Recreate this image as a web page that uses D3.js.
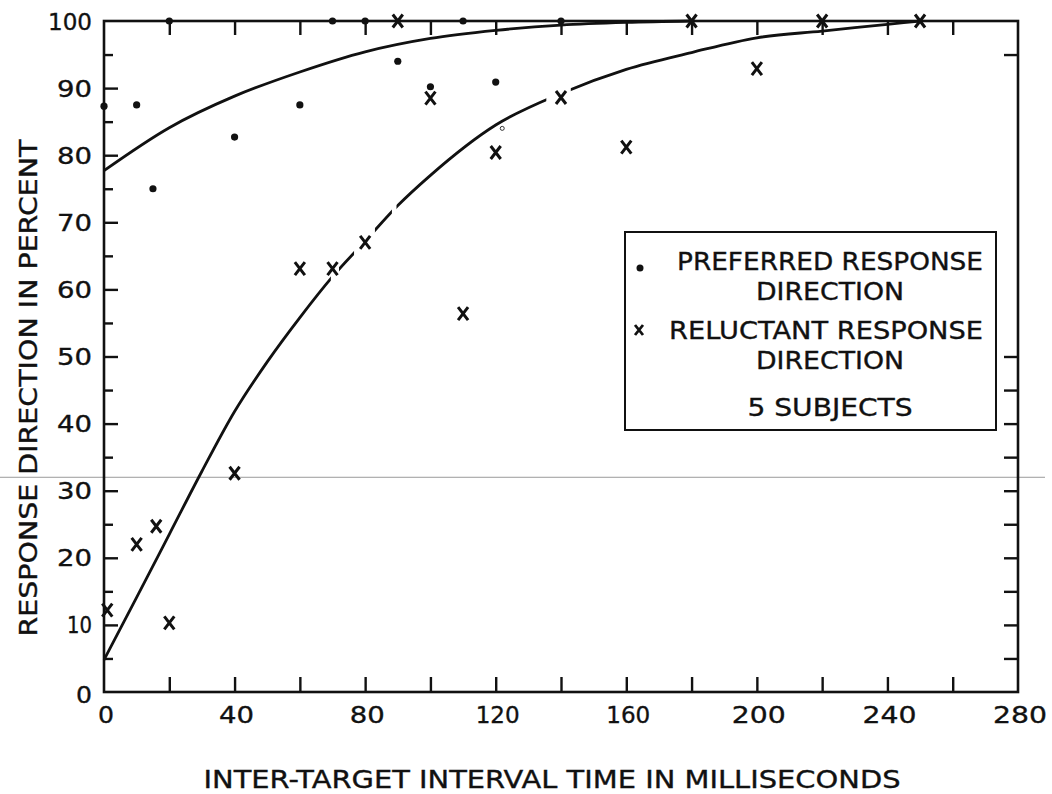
<!DOCTYPE html>
<html><head><meta charset="utf-8">
<script src="https://cdn.jsdelivr.net/npm/d3@7"></script>
<style>
html,body{margin:0;padding:0;background:#fff;}
text{font-family:"DejaVu Sans",sans-serif;fill:#111;stroke:#111;stroke-width:0.35;}
</style></head>
<body><svg id="c" width="1052" height="794"></svg>
<script>
// ---- data ----
const preferredT = [0, 10, 15, 20, 40, 60, 70, 80, 90, 100, 110, 120, 140];
const preferredV = [87.3, 87.5, 75, 100, 82.7, 87.5, 100, 100, 94, 90.2, 100, 90.9, 100];
const reluctantT = [1, 10, 16, 20, 40, 60, 70, 80, 90, 100, 110, 120, 140, 160, 180, 200, 220, 250];
const reluctantV = [12.2, 22, 24.7, 10.3, 32.6, 63.1, 63.1, 67, 100, 88.5, 56.4, 80.4, 88.6, 81.2, 100, 92.9, 100, 100];
const preferredCurveT = [0, 20, 40, 60, 80, 100, 120, 140, 160, 180];
const preferredCurveV = [77.7, 84.1, 88.8, 92.4, 95.4, 97.4, 98.6, 99.4, 99.8, 100];
const reluctantCurveT = [0, 10, 20, 30, 40, 50, 60, 70, 80, 90, 100, 120, 140, 160, 180, 200, 220, 240, 250];
const reluctantCurveV = [4.8, 14.1, 23.5, 32.9, 41.8, 49.2, 55.8, 61.9, 67.2, 72.5, 77.0, 84.5, 89.2, 92.8, 95.3, 97.5, 98.5, 99.5, 100];
const reluctantCurveGaps = [[69.5, 72], [76.6, 83], [88.2, 89.6], [135.5, 143]];
const strayCircleT = [122], strayCircleV = [84];
const xLabelTicks = [0, 40, 80, 120, 160, 200, 240, 280];
const xMinorTicks = [20, 40, 60, 80, 100, 120, 140, 160, 180, 200, 220, 240, 260];
const yLabelTicks = [0, 10, 20, 30, 40, 50, 60, 70, 80, 90, 100];
const yLeftTicks = [5,10,15,20,25,30,35,40,45,50,55,60,65,70,75,80,85,90,95];
const yRightTicks = [5,10,15,20,25,30,35,40,45,50,95];
const scanLineV = 32;
const legendLines = ["PREFERRED RESPONSE", "DIRECTION", "RELUCTANT RESPONSE", "DIRECTION", "5 SUBJECTS"];
const xTitle = "INTER-TARGET INTERVAL TIME IN MILLISECONDS";
const yTitle = "RESPONSE DIRECTION IN PERCENT";

// ---- drawing ----
const svg = d3.select("#c");
svg.append("rect").attr("width",1052).attr("height",794).attr("fill","#fff").attr("stroke","none");
const x = d3.scaleLinear().domain([0,280]).range([104,1018]);
const y = d3.scaleLinear().domain([0,100]).range([692,21]);

// lettering width for numerals (narrow "1")
const numWidth = s => { const c = String(s).split(""); return c.reduce((a,ch)=>a+(ch==="1"?6:16),0) + 3*(c.length-1); };

// scan artifact line
svg.append("line").attr("x1",0).attr("x2",1045).attr("y1",y(scanLineV)).attr("y2",y(scanLineV))
  .attr("stroke","#9a9a9a").attr("stroke-width",1);

// frame
svg.append("rect").attr("x",x(0)).attr("y",y(100)).attr("width",x(280)-x(0)).attr("height",y(0)-y(100))
  .attr("fill","none").attr("stroke","#111").attr("stroke-width",2.6);

// ticks via axes
const tickStyle = g => { g.select(".domain").remove(); g.selectAll(".tick line").attr("stroke","#111").attr("stroke-width",2.4); g.selectAll(".tick text").remove(); };
svg.append("g").attr("transform",`translate(0,${y(0)})`).call(d3.axisTop(x).tickValues(xMinorTicks).tickSize(15)).call(tickStyle);
svg.append("g").attr("transform",`translate(0,${y(100)})`).call(d3.axisBottom(x).tickValues(xMinorTicks).tickSize(14)).call(tickStyle);
svg.append("g").attr("transform",`translate(${x(0)},0)`).call(d3.axisRight(y).tickValues(yLeftTicks).tickSize(13)).call(tickStyle)
  .selectAll(".tick line").attr("x2", d => d % 10 === 0 ? 14 : 9);
svg.append("g").attr("transform",`translate(${x(280)},0)`).call(d3.axisLeft(y).tickValues(yRightTicks).tickSize(14)).call(tickStyle);

// tick labels
svg.append("g").selectAll("text").data(xLabelTicks).join("text")
  .attr("x", d => x(d) + 2).attr("y", 723).attr("text-anchor","middle").attr("font-size",23)
  .attr("textLength", d => numWidth(d)).attr("lengthAdjust","spacingAndGlyphs").text(d => d);
svg.append("g").selectAll("text").data(yLabelTicks).join("text")
  .attr("x", 92).attr("y", d => d === 0 ? 703 : y(d) + 8.5).attr("text-anchor","end").attr("font-size",23)
  .attr("textLength", d => numWidth(d)).attr("lengthAdjust","spacingAndGlyphs").text(d => d);

// titles
svg.append("text").attr("x",552).attr("y",788).attr("text-anchor","middle").attr("font-size",25)
  .attr("textLength",697).attr("lengthAdjust","spacingAndGlyphs").text(xTitle);
svg.append("text").attr("transform","translate(37,388) rotate(-90)").attr("text-anchor","middle").attr("font-size",25)
  .attr("textLength",497).attr("lengthAdjust","spacingAndGlyphs").text(yTitle);

// curves
const line = d3.line().x(d => x(d[0])).y(d => y(d[1])).curve(d3.curveMonotoneX);
svg.append("path").attr("d", line(preferredCurveT.map((t,i)=>[t,preferredCurveV[i]])))
  .attr("fill","none").attr("stroke","#111").attr("stroke-width",2.8);
const keep = [];
let start = -10;
reluctantCurveGaps.forEach(g => { keep.push([start, g[0]]); start = g[1]; });
keep.push([start, 300]);
const cp = svg.append("defs").append("clipPath").attr("id","gapclip");
keep.forEach(k => cp.append("rect").attr("x", x(k[0])).attr("width", x(k[1]) - x(k[0])).attr("y", 0).attr("height", 794));
svg.append("path").attr("d", line(reluctantCurveT.map((t,i)=>[t,reluctantCurveV[i]])))
  .attr("fill","none").attr("stroke","#111").attr("stroke-width",2.8).attr("clip-path","url(#gapclip)");

// markers
const xMark = (w,h) => `M${-w/2},${-h/2}L${w/2},${h/2}M${w/2},${-h/2}L${-w/2},${h/2}`;
svg.append("g").selectAll("path").data(reluctantT.map((t,i)=>[t,reluctantV[i]])).join("path")
  .attr("transform", d => `translate(${x(d[0])},${y(d[1])})`).attr("d", xMark(10,13))
  .attr("stroke","#111").attr("stroke-width",3).attr("fill","none");
svg.append("g").selectAll("circle").data(preferredT.map((t,i)=>[t,preferredV[i]])).join("circle")
  .attr("cx", d => x(d[0])).attr("cy", d => y(d[1])).attr("r",3.6).attr("fill","#111");
svg.append("g").selectAll("circle").data(strayCircleT.map((t,i)=>[t,strayCircleV[i]])).join("circle")
  .attr("cx", d => x(d[0])).attr("cy", d => y(d[1])).attr("r",2).attr("fill","none").attr("stroke","#333").attr("stroke-width",1);

// legend
const lg = svg.append("g");
lg.append("rect").attr("x",625).attr("y",232).attr("width",371).attr("height",198)
  .attr("fill","#fff").attr("stroke","#111").attr("stroke-width",2);
lg.append("circle").attr("cx",640).attr("cy",268).attr("r",3.5).attr("fill","#111");
lg.append("path").attr("transform","translate(639,330)").attr("d", xMark(8,10)).attr("stroke","#111").attr("stroke-width",2.8);
const legendPos = [[830,270,306],[830,300,148],[826,339,314],[830,369,148],[830,416,165]];
legendLines.forEach((t,i) => {
  lg.append("text").attr("x",legendPos[i][0]).attr("y",legendPos[i][1]).attr("text-anchor","middle")
    .attr("font-size",24).attr("textLength",legendPos[i][2]).attr("lengthAdjust","spacingAndGlyphs").text(t);
});
</script></body></html>
